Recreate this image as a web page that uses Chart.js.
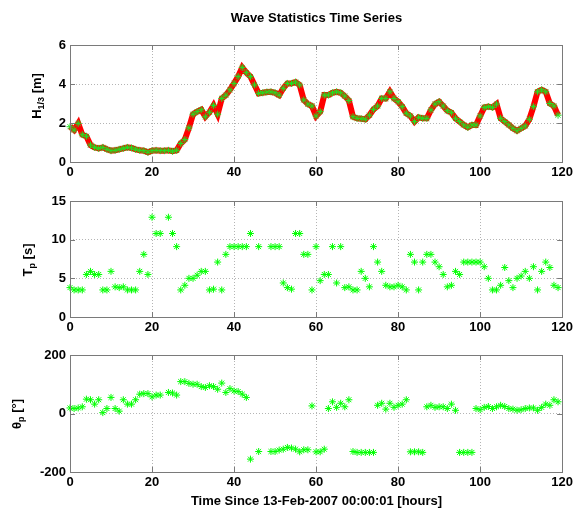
<!DOCTYPE html>
<html>
<head>
<meta charset="utf-8">
<script src="https://cdn.jsdelivr.net/npm/chart.js@4"></script>
<style>
    body { margin: 0; background: #ffffff; }
    #wrap { position: relative; width: 576px; height: 513px; }
    #wrap canvas { position: absolute; left: 0; top: 0; }
</style>
</head>
<body>
<div id="wrap">
    <canvas id="hs" width="576" height="513"></canvas>
    <canvas id="tp" width="576" height="513"></canvas>
    <canvas id="dir" width="576" height="513"></canvas>
</div>
<script>
// hours since start
const hours = [
    0, 1, 2, 3, 4, 5, 6, 7, 8, 9, 10, 11, 12, 13, 14, 15, 16, 17, 18, 19,
    20, 21, 22, 23, 24, 25, 26, 27, 28, 29, 30, 31, 32, 33, 34, 35, 36, 37, 38, 39,
    40, 41, 42, 43, 44, 45, 46, 47, 48, 49, 50, 51, 52, 53, 54, 55, 56, 57, 58, 59,
    60, 61, 62, 63, 64, 65, 66, 67, 68, 69, 70, 71, 72, 73, 74, 75, 76, 77, 78, 79,
    80, 81, 82, 83, 84, 85, 86, 87, 88, 89, 90, 91, 92, 93, 94, 95, 96, 97, 98, 99,
    100, 101, 102, 103, 104, 105, 106, 107, 108, 109, 110, 111, 112, 113, 114, 115, 116, 117, 118, 119,
];

// significant wave height [m]
const waveHeight = [
    1.81, 1.64, 1.98, 1.40, 1.32, 0.87, 0.75, 0.70, 0.75, 0.65,
    0.58, 0.60, 0.65, 0.70, 0.75, 0.72, 0.65, 0.60, 0.58, 0.50,
    0.58, 0.60, 0.58, 0.58, 0.60, 0.55, 0.60, 0.95, 1.15, 1.75,
    2.45, 2.58, 2.68, 2.32, 2.55, 2.90, 2.45, 3.26, 3.43, 3.70,
    4.03, 4.38, 4.85, 4.58, 4.38, 3.95, 3.52, 3.55, 3.59, 3.60,
    3.55, 3.43, 3.78, 4.03, 4.03, 4.10, 3.95, 3.18, 2.97, 2.87,
    2.36, 2.58, 3.43, 3.43, 3.55, 3.60, 3.55, 3.38, 3.15, 2.32,
    2.24, 2.22, 2.19, 2.40, 2.70, 2.87, 3.26, 3.26, 3.60, 3.26,
    3.09, 2.84, 2.50, 2.36, 2.07, 2.29, 2.24, 2.24, 2.67, 2.97,
    3.09, 2.87, 2.63, 2.53, 2.24, 2.07, 1.90, 1.78, 1.90, 1.90,
    2.36, 2.80, 2.84, 2.80, 2.97, 2.24, 2.07, 1.90, 1.73, 1.60,
    1.73, 1.85, 2.19, 2.84, 3.60, 3.70, 3.60, 3.00, 2.87, 2.40,
];

// peak period [s]
const peakPeriod = [
    3.8, 3.5, 3.5, 3.5, 5.5, 5.9, 5.5, 5.5, 3.5, 3.5,
    5.9, 3.9, 3.8, 3.9, 3.5, 3.5, 3.5, 5.9, 8.1, 5.5,
    12.9, 10.8, 10.8, null, 12.9, 10.8, 9.1, 3.5, 4.1, 5.0,
    5.0, 5.4, 5.9, 5.9, 3.5, 3.6, 7.1, 3.5, 8.1, 9.1,
    9.1, 9.1, 9.1, 9.1, 10.8, null, 9.1, null, null, 9.1,
    9.1, 9.1, 4.4, 3.8, 3.6, 10.8, 10.8, 8.1, 8.1, 3.5,
    9.1, 4.7, 5.5, 5.5, 9.1, 4.4, 9.1, 3.8, 3.9, 3.5,
    3.5, 5.9, 5.0, 3.9, 9.1, 7.1, 5.9, 4.1, 3.9, 3.9,
    4.1, 3.9, 3.5, 8.1, 7.1, 3.5, 7.1, 8.1, 8.1, 7.1,
    6.5, 5.5, 3.9, 4.1, 5.9, 5.5, 7.1, 7.1, 7.1, 7.1,
    7.1, 6.5, 5.0, 3.5, 3.5, 4.1, 6.4, 4.7, 3.8, 5.0,
    5.3, 5.9, 5.0, 6.5, 3.5, 5.9, 7.1, 6.4, 4.1, 3.8,
];

// peak direction [deg]
const peakDirection = [
    19, 17, 19, 23, 49, 47, 32, 47, 3, 17,
    55, 17, 8, 47, 32, 32, 47, 66, 68, 68,
    57, 63, 63, null, 72, 70, 63, 109, 109, 103,
    100, 100, 92, 89, 95, 92, 83, 104, 72, 85,
    77, 75, 66, 55, -156, null, -130, null, null, -130,
    -130, -125, -122, -116, -118, -122, -131, -124, -124, 26,
    -131, -131, -122, 17, 40, 21, 35, 23, 47, -130,
    -133, -133, -133, -133, -133, 28, 35, 15, 35, 21,
    28, 32, 47, -131, -131, -131, -133, 23, 28, 21,
    23, 23, 17, 32, 11, -133, -133, -133, -133, 17,
    13, 21, 24, 17, 23, 28, 24, 17, 15, 11,
    13, 17, 19, 19, 11, 21, 32, 28, 47, 40,
];

const hTicks = [0, 2, 4, 6];
const tTicks = [0, 5, 10, 15];
const dTicks = [-200, 0, 200];
const xTicks = [0, 20, 40, 60, 80, 100, 120];

const chartTitle = "Wave Statistics Time Series";
const xTitle = "Time Since 13-Feb-2007 00:00:01 [hours]";

const FONT = '"Liberation Sans", Arial, sans-serif';
const GREEN = "#00ff00";

// axes box with inward ticks, MATLAB style
const boxPlugin = {
    id: "box",
    afterDraw: (chart) => {
        let ctx = chart.ctx;
        let a = chart.chartArea;
        let xs = chart.scales.x;
        let ys = chart.scales.y;
        ctx.save();
        ctx.strokeStyle = "#7a7a7a";
        ctx.lineWidth = 1;
        ctx.strokeRect(Math.round(a.left) + 0.5, Math.round(a.top) + 0.5,
            Math.round(a.right - a.left), Math.round(a.bottom - a.top));
        ctx.beginPath();
        xs.ticks.forEach((t) => {
            let px = Math.round(xs.getPixelForValue(t.value)) + 0.5;
            ctx.moveTo(px, a.bottom);
            ctx.lineTo(px, a.bottom - 5);
            ctx.moveTo(px, a.top);
            ctx.lineTo(px, a.top + 5);
        });
        ys.ticks.forEach((t) => {
            let py = Math.round(ys.getPixelForValue(t.value)) + 0.5;
            ctx.moveTo(a.left, py);
            ctx.lineTo(a.left + 5, py);
            ctx.moveTo(a.right, py);
            ctx.lineTo(a.right - 5, py);
        });
        ctx.stroke();
        ctx.restore();
    },
};

// rotated y label with subscript, plus free text lines
const labelPlugin = (parts, bx, cy, extra) => ({
    id: "labels",
    afterDraw: (chart) => {
        let ctx = chart.ctx;
        ctx.save();
        ctx.fillStyle = "#000000";
        ctx.textBaseline = "alphabetic";
        let total = 0;
        parts.forEach((p) => {
            ctx.font = p.font;
            total += ctx.measureText(p.text).width;
        });
        ctx.translate(bx, cy);
        ctx.rotate(-Math.PI / 2);
        let pos = -total / 2;
        parts.forEach((p) => {
            ctx.font = p.font;
            ctx.fillText(p.text, pos, p.dy || 0);
            pos += ctx.measureText(p.text).width;
        });
        ctx.restore();

        (extra || []).forEach((e) => {
            ctx.save();
            ctx.font = "bold 13px " + FONT;
            ctx.fillStyle = "#000000";
            ctx.textAlign = "center";
            ctx.textBaseline = "middle";
            ctx.fillText(e.text, e.x, e.y);
            ctx.restore();
        });
    },
});

const big = "bold 13px " + FONT;
const small = "bold 9px " + FONT;

const makeOptions = (top, bottom, yMin, yMax, yTicks) => ({
    responsive: false,
    animation: false,
    layout: {
        padding: { left: 0, right: 13, top: top, bottom: bottom },
    },
    plugins: {
        legend: { display: false },
        tooltip: { enabled: false },
    },
    scales: {
        x: {
            type: "linear",
            min: 0,
            max: 120,
            afterBuildTicks: (s) => {
                s.ticks = xTicks.map((v) => ({ value: v }));
            },
            afterFit: (s) => {
                s.height = 20;
            },
            grid: {
                color: "#b4b4b4",
                drawTicks: false,
            },
            border: { display: false, dash: [1, 2] },
            ticks: {
                padding: 3,
                color: "#000000",
                font: { family: FONT, size: 13, weight: "bold" },
                maxRotation: 0,
            },
        },
        y: {
            min: yMin,
            max: yMax,
            afterBuildTicks: (s) => {
                s.ticks = yTicks.map((v) => ({ value: v }));
            },
            afterFit: (s) => {
                s.width = 70;
            },
            grid: {
                color: "#b4b4b4",
                drawTicks: false,
            },
            border: { display: false, dash: [1, 2] },
            ticks: {
                padding: 4,
                color: "#000000",
                font: { family: FONT, size: 13, weight: "bold" },
            },
        },
    },
});

const toPoints = (values) => hours.map((h, i) => ({ x: h, y: values[i] }));

// top: wave height
new Chart(document.getElementById("hs").getContext("2d"), {
    type: "line",
    data: {
        datasets: [
            {
                data: toPoints(waveHeight),
                borderColor: "#ff0000",
                borderWidth: 6,
                tension: 0,
                pointStyle: "star",
                pointRadius: 3.5,
                pointBorderColor: "#22e022",
                pointBorderWidth: 1,
                clip: false,
            },
        ],
    },
    options: makeOptions(45, 331, 0, 6, hTicks),
    plugins: [
        boxPlugin,
        labelPlugin(
            [
                { text: "H", font: big },
                { text: "1/3", font: small, dy: 3 },
                { text: " [m]", font: big },
            ],
            41, 96,
            [{ text: chartTitle, x: 316.5, y: 18 }]
        ),
    ],
});

// middle: peak period
new Chart(document.getElementById("tp").getContext("2d"), {
    type: "scatter",
    data: {
        datasets: [
            {
                data: toPoints(peakPeriod),
                pointStyle: "star",
                pointRadius: 3.5,
                borderColor: GREEN,
                backgroundColor: GREEN,
                borderWidth: 1,
                clip: false,
            },
        ],
    },
    options: makeOptions(201, 176, 0, 15, tTicks),
    plugins: [
        boxPlugin,
        labelPlugin(
            [
                { text: "T", font: big },
                { text: "p", font: small, dy: 3 },
                { text: " [s]", font: big },
            ],
            32, 260
        ),
    ],
});

// bottom: peak direction
new Chart(document.getElementById("dir").getContext("2d"), {
    type: "scatter",
    data: {
        datasets: [
            {
                data: toPoints(peakDirection),
                pointStyle: "star",
                pointRadius: 3.5,
                borderColor: GREEN,
                backgroundColor: GREEN,
                borderWidth: 1,
                clip: false,
            },
        ],
    },
    options: makeOptions(355, 21, -200, 200, dTicks),
    plugins: [
        boxPlugin,
        labelPlugin(
            [
                { text: "θ", font: big },
                { text: "p", font: small, dy: 3 },
                { text: " [°]", font: big },
            ],
            21, 414,
            [{ text: xTitle, x: 316.5, y: 501 }]
        ),
    ],
});
</script>
</body>
</html>
